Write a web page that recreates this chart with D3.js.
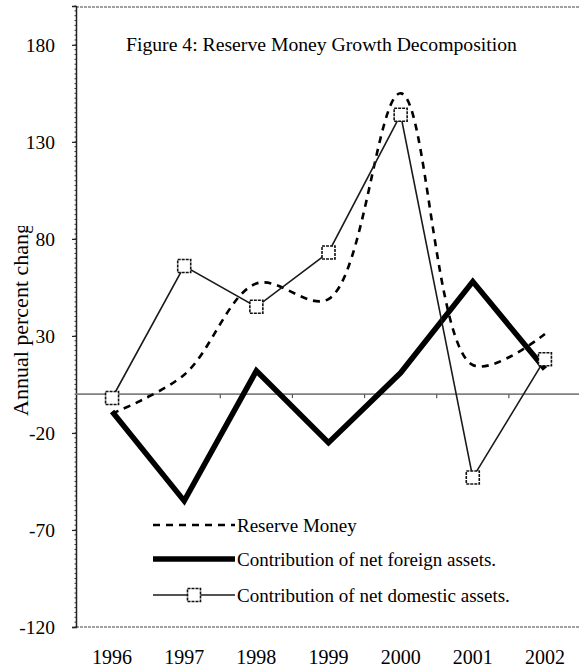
<!DOCTYPE html>
<html>
<head>
<meta charset="utf-8">
<script src="https://cdn.jsdelivr.net/npm/d3@7"></script>
<style>
  html, body { margin: 0; padding: 0; background: #fff; }
  svg { display: block; }
  text { font-family: "Liberation Serif", "Times New Roman", serif; fill: #000; }
</style>
</head>
<body>
<svg id="chart" width="579" height="671"></svg>
<script>
// ---- data ----
const years = ["1996", "1997", "1998", "1999", "2000", "2001", "2002"];
const reserveMoney   = [-10, 10, 57, 49, 155, 15, 31];
const foreignAssets  = [-9, -55, 12, -25, 11, 58, 13];
const domesticAssets = [-2, 66, 45, 73, 144, -43, 18];
const yTicks = [-120, -70, -20, 30, 80, 130, 180];
const titleText = "Figure 4: Reserve Money Growth Decomposition";
const yTitle = "Annual percent change";
const legendLabels = ["Reserve Money", "Contribution of net foreign assets.", "Contribution of net domestic assets."];

// ---- layout ----
const svg = d3.select("#chart");
const plot = { left: 76, right: 581, top: 6, bottom: 627 };

const x = d3.scaleBand().domain(years).range([plot.left, plot.right]);
const cx = d => x(d) + x.bandwidth() / 2;
const y = d3.scaleLinear().domain([-120, 200]).range([plot.bottom, plot.top]);

// top & bottom borders (dotted, like the scan)
svg.append("line").attr("x1", plot.left).attr("x2", 579).attr("y1", 7).attr("y2", 7)
  .attr("stroke", "#444").attr("stroke-width", 1.2).attr("stroke-dasharray", "3,1");
svg.append("line").attr("x1", plot.left).attr("x2", 579).attr("y1", y(-120)).attr("y2", y(-120))
  .attr("stroke", "#444").attr("stroke-width", 1.2).attr("stroke-dasharray", "3,1");

// y axis
const yAxis = d3.axisLeft(y).tickValues(yTicks).tickSize(4).tickFormat(d => d);
const gy = svg.append("g").attr("transform", `translate(${plot.left},0)`).call(yAxis);
gy.select(".domain").attr("stroke", "#222").attr("stroke-width", 1.5);
gy.selectAll(".tick line").attr("stroke", "#222").attr("stroke-width", 1.2);
gy.selectAll(".tick text").attr("x", -21).attr("font-size", 19.5)
  .style("font-family", "Liberation Serif").attr("fill", "#000");
// minor ticks giving the axis its texture
const minor = d3.range(-120, 201, 2.5);
svg.append("g").selectAll("line").data(minor).join("line")
  .attr("x1", plot.left - 1.5).attr("x2", plot.left)
  .attr("y1", d => y(d)).attr("y2", d => y(d))
  .attr("stroke", "#333").attr("stroke-width", 1);

// zero line
svg.append("line").attr("x1", plot.left).attr("x2", 579).attr("y1", y(0)).attr("y2", y(0))
  .attr("stroke", "#808080").attr("stroke-width", 1.6);
// category boundary ticks on zero line
svg.append("g").selectAll("line").data(years.slice(1)).join("line")
  .attr("x1", d => x(d)).attr("x2", d => x(d))
  .attr("y1", y(0)).attr("y2", y(0) + 4)
  .attr("stroke", "#555").attr("stroke-width", 1.2);

// x labels
svg.append("g").selectAll("text").data(years).join("text")
  .attr("x", d => cx(d)).attr("y", 664)
  .attr("text-anchor", "middle").attr("font-size", 20).text(d => d);

// y title (clipped at top as in the reference)
svg.append("clipPath").attr("id", "ytclip").append("rect")
  .attr("x", 0).attr("y", 226).attr("width", 60).attr("height", 300);
svg.append("g").attr("clip-path", "url(#ytclip)")
  .append("text")
  .attr("transform", "translate(28,416) rotate(-90)")
  .attr("text-anchor", "start").attr("font-size", 22).text(yTitle);

// title
svg.append("text").attr("x", 126).attr("y", 51).attr("font-size", 19.7).text(titleText);

// ---- series ----
const lineRM = d3.line().x((d, i) => cx(years[i])).y(d => y(d)).curve(d3.curveCatmullRom.alpha(0.5));
const lineStraight = d3.line().x((d, i) => cx(years[i])).y(d => y(d));

svg.append("path").datum(reserveMoney).attr("d", lineRM)
  .attr("fill", "none").attr("stroke", "#000").attr("stroke-width", 2.6)
  .attr("stroke-dasharray", "7,6");

svg.append("path").datum(foreignAssets).attr("d", lineStraight)
  .attr("fill", "none").attr("stroke", "#000").attr("stroke-width", 5.5)
  .attr("stroke-linejoin", "miter");

svg.append("path").datum(domesticAssets).attr("d", lineStraight)
  .attr("fill", "none").attr("stroke", "#1a1a1a").attr("stroke-width", 1.6);

const sq = 13;
svg.append("g").selectAll("rect").data(domesticAssets).join("rect")
  .attr("x", (d, i) => cx(years[i]) - sq / 2).attr("y", d => y(d) - sq / 2)
  .attr("width", sq).attr("height", sq)
  .attr("fill", "#fff").attr("stroke", "#111").attr("stroke-width", 1.6)
  .attr("stroke-dasharray", "3,1");

// ---- legend ----
const lg = svg.append("g");
const lx1 = 153, lx2 = 235, ly = [525, 559, 595];
lg.append("line").attr("x1", lx1).attr("x2", lx2).attr("y1", ly[0]).attr("y2", ly[0])
  .attr("stroke", "#000").attr("stroke-width", 2.6).attr("stroke-dasharray", "7,6");
lg.append("line").attr("x1", lx1).attr("x2", lx2).attr("y1", ly[1]).attr("y2", ly[1])
  .attr("stroke", "#000").attr("stroke-width", 5.5);
lg.append("line").attr("x1", lx1).attr("x2", lx2).attr("y1", ly[2]).attr("y2", ly[2])
  .attr("stroke", "#1a1a1a").attr("stroke-width", 1.6);
lg.append("rect").attr("x", 194 - sq / 2).attr("y", ly[2] - sq / 2).attr("width", sq).attr("height", sq)
  .attr("fill", "#fff").attr("stroke", "#111").attr("stroke-width", 1.6).attr("stroke-dasharray", "3,1");
lg.selectAll("text").data(legendLabels).join("text")
  .attr("x", 237).attr("y", (d, i) => ly[i]).attr("dy", "0.35em")
  .attr("font-size", 19).text(d => d);
</script>
</body>
</html>
